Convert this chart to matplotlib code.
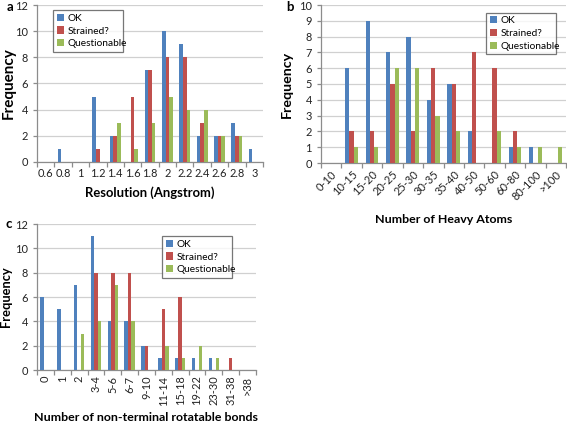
import matplotlib
matplotlib.use("Agg")
import matplotlib.pyplot as plt
import numpy as np

plt.rcParams['font.family'] = ['Lato', 'DejaVu Sans']

series_names = ["OK", "Strained?", "Questionable"]
colors = ["#4F81BD", "#C0504D", "#9BBB59"]

# Panel a
res_cats = ["0.6", "0.8", "1", "1.2", "1.4", "1.6", "1.8", "2", "2.2", "2.4", "2.6", "2.8", "3"]
res_ok = [0, 1, 0, 5, 2, 0, 7, 10, 9, 2, 2, 3, 1]
res_str = [0, 0, 0, 1, 2, 5, 7, 8, 8, 3, 2, 2, 0]
res_q = [0, 0, 0, 0, 3, 1, 3, 5, 4, 4, 2, 2, 0]

# Panel b
ha_cats = ["0-10", "10-15", "15-20", "20-25", "25-30", "30-35", "35-40", "40-50", "50-60", "60-80", "80-100", ">100"]
ha_ok = [0, 6, 9, 7, 8, 4, 5, 2, 0, 1, 1, 0]
ha_str = [0, 2, 2, 5, 2, 6, 5, 7, 6, 2, 0, 0]
ha_q = [0, 1, 1, 6, 6, 3, 2, 0, 2, 1, 1, 1]

# Panel c
rb_cats = ["0", "1", "2", "3-4", "5-6", "6-7", "9-10", "11-14", "15-18", "19-22", "23-30", "31-38", ">38"]
rb_ok = [6, 5, 7, 11, 4, 4, 2, 1, 1, 1, 1, 0, 0]
rb_str = [0, 0, 0, 8, 8, 8, 2, 5, 6, 0, 0, 1, 0]
rb_q = [0, 0, 3, 4, 7, 4, 0, 2, 1, 2, 1, 0, 0]

W, H = 567, 423
fig = plt.figure(figsize=(W / 100, H / 100), dpi=100)

def ax_px(l, t, r, b):
    return fig.add_axes([l / W, 1 - b / H, (r - l) / W, (b - t) / H])

GRID = "#D0D0D0"
AXC = "#8C8C8C"

def draw(ax, cats, data, ymax, ystep, rot, xlabel, ha, ylab_fs, ylab_x, xlab_fs, xlab_y):
    n = len(cats)
    x = np.arange(n)
    bw = 0.21
    for i, (vals, c, name) in enumerate(zip(data, colors, series_names)):
        ax.bar(x + (i - 1) * bw, vals, width=bw, color=c, label=name, zorder=3, linewidth=0)
    ax.set_xlim(-0.5, n - 0.5)
    ax.set_ylim(0, ymax)
    ax.set_yticks(np.arange(0, ymax + 0.01, ystep))
    ax.yaxis.grid(True, color=GRID, linewidth=0.9, zorder=0)
    ax.set_axisbelow(True)
    for s in ["top", "right"]:
        ax.spines[s].set_visible(False)
    for s in ["left", "bottom"]:
        ax.spines[s].set_color(AXC)
        ax.spines[s].set_linewidth(0.9)
    ax.set_xticks(x)
    ax.set_xticklabels(cats, rotation=rot, ha=ha, rotation_mode='anchor' if rot == 45 else 'default')
    ax.set_xticks(np.arange(-0.5, n, 1), minor=True)
    ax.tick_params(axis='x', which='major', length=0, labelsize=7.9, pad=4, colors='#222222')
    ax.tick_params(axis='x', which='minor', length=3.5, color=AXC, width=0.9)
    ax.tick_params(axis='y', length=3, color=AXC, width=0.9, labelsize=7.9, colors='#222222')
    ax.set_ylabel("Frequency", fontsize=ylab_fs, fontweight='bold')
    ax.yaxis.set_label_coords(ylab_x, 0.5)
    ax.set_xlabel(xlabel, fontsize=xlab_fs, fontweight='bold')
    ax.xaxis.set_label_coords(0.5, xlab_y)

def leg(ax, l, t, r, b):
    lg = ax.legend(loc='center', bbox_to_anchor=(l / W, 1 - b / H, (r - l) / W, (b - t) / H),
                   bbox_transform=fig.transFigure, mode='expand',
                   fontsize=7.3, frameon=True, fancybox=False, handlelength=0.7, handleheight=0.7,
                   handletextpad=0.4, borderpad=0.35, labelspacing=0.35, borderaxespad=0)
    lg.get_frame().set_edgecolor('#555555')
    lg.get_frame().set_linewidth(0.9)

axa = ax_px(37, 5, 263, 162)
draw(axa, res_cats, [res_ok, res_str, res_q], 12, 2, 0, "Resolution (Angstrom)", 'center',
     11, -0.093, 9.4, -0.155)
leg(axa, 53, 10, 123, 52)

axb = ax_px(321, 5, 566, 163)
draw(axb, ha_cats, [ha_ok, ha_str, ha_q], 10, 1, 45, "Number of Heavy Atoms", 'right',
     10.3, -0.114, 8.9, -0.325)
leg(axb, 486, 12, 556, 55)

axc = ax_px(37, 224, 256, 370)
draw(axc, rb_cats, [rb_ok, rb_str, rb_q], 12, 2, 90, "Number of non-terminal rotatable bonds", 'center',
     9.3, -0.112, 8.9, -0.285)
leg(axc, 162, 236, 232, 278)

fig.text(7 / W, 1 - 7 / H, "a", fontsize=9.5, fontweight='bold', va='center', ha='left')
fig.text(286 / W, 1 - 7 / H, "b", fontsize=9.5, fontweight='bold', va='center', ha='left')
fig.text(6 / W, 1 - 224 / H, "c", fontsize=9.5, fontweight='bold', va='center', ha='left')

fig.savefig("out.png", dpi=100)
